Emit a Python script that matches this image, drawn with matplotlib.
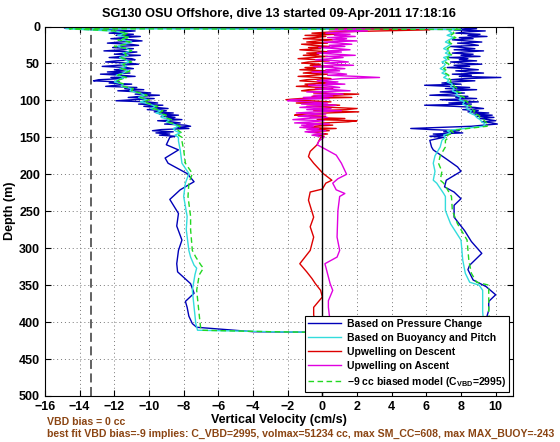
import numpy as np
import matplotlib
matplotlib.use("Agg")
import matplotlib.pyplot as plt

plt.rcParams['font.family'] = ['Liberation Sans', 'DejaVu Sans']
plt.rcParams['mathtext.fontset'] = 'custom'
plt.rcParams['mathtext.rm'] = 'Liberation Sans:bold'
plt.rcParams['mathtext.it'] = 'Liberation Sans:bold'

# ---- data (velocity in cm/s, depth in m) ----
# near-surface noisy part: pressure and upwelling sampled every 1.5 m,
# buoyancy/model every 3 m
depth_fine = np.arange(1.5, 150.1, 1.5)
depth_top = np.arange(3, 151, 3)

press_desc_top = [-14.9, -13.0, -12.1, -10.8, -11.6, -12.3, -10.9, -11.9, -10.5, -11.4,
                  -12.2, -11.0, -10.4, -11.7, -12.4, -11.1, -10.6, -11.8, -12.1, -10.9,
                  -11.5, -12.6, -10.7, -11.3, -12.0, -10.5, -11.6, -12.3, -11.0, -10.8,
                  -11.9, -12.5, -11.2, -10.6, -11.8, -12.7, -11.3, -10.9, -12.0, -11.4,
                  -12.4, -11.1, -12.8, -11.6, -10.8, -12.2, -11.5, -12.9, -13.2, -11.7,
                  -12.3, -11.0, -11.9, -12.5, -10.7, -11.4, -10.3, -11.8, -10.6, -9.9,
                  -10.8, -9.4, -10.5, -11.2, -9.7, -10.9, -11.9, -10.1, -9.5, -10.6,
                  -9.2, -10.3, -9.6, -8.9, -10.1, -9.0, -9.7, -8.6, -9.4, -8.3,
                  -9.3, -8.5, -9.0, -8.1, -9.5, -8.7, -8.2, -9.1, -7.9, -7.6,
                  -8.4, -7.7, -9.3, -9.8, -8.6, -9.6, -8.8, -9.4, -8.5, -8.8]
press_asc_top = [8.0, 8.9, 7.6, 9.4, 8.2, 7.7, 9.1, 8.4, 9.5, 7.9,
                 8.7, 7.5, 8.3, 9.2, 7.8, 8.6, 9.0, 7.4, 8.1, 8.8,
                 7.6, 9.3, 8.2, 7.5, 8.7, 8.0, 9.1, 7.3, 8.4, 7.9,
                 8.9, 7.4, 8.1, 9.2, 7.6, 8.5, 7.2, 8.3, 9.0, 7.7,
                 8.4, 9.3, 7.5, 8.6, 7.9, 10.3, 8.2, 7.4, 8.8, 7.6,
                 6.9, 8.0, 5.9, 7.3, 8.5, 7.1, 8.9, 7.6, 6.8, 8.2,
                 7.4, 6.2, 8.4, 7.7, 8.9, 6.8, 7.9, 9.0, 7.3, 8.6,
                 5.9, 7.6, 8.8, 9.3, 8.1, 9.0, 8.4, 9.6, 8.7, 9.8,
                 8.9, 9.9, 9.1, 9.6, 10.0, 9.2, 9.8, 10.1, 9.3, 8.6,
                 6.8, 5.1, 6.3, 7.9, 7.0, 8.1, 6.4, 7.2, 6.2, 7.0]
up_desc_top = [0.5, 2.0, 6.2, 3.3, 0.4, -0.6, 0.9, -1.0, 0.2, -0.4,
               -1.1, 0.6, -0.3, -0.9, 0.3, -1.2, -0.5, 0.4, -0.8, -0.1,
               -1.3, -0.4, 0.5, -0.9, -0.2, -1.1, 0.3, -0.6, -1.4, -0.3,
               0.4, -0.8, -1.2, -0.1, -0.7, 0.6, -1.0, -0.4, -1.3, 0.2,
               -0.6, -1.1, 0.3, -0.5, -1.4, -0.2, 0.5, -0.9, -1.3, -0.3,
               0.4, -1.0, -0.4, -1.5, -0.1, 0.6, -0.8, -1.2, 0.2, -0.5,
               2.1, 0.8, -0.6, 1.7, -1.3, -2.1, -0.7, 0.5, -1.5, -0.2,
               1.0, -0.9, 0.6, 2.0, 1.4, -0.5, 2.1, 0.3, -1.2, -1.6,
               0.2, -0.7, 1.3, -0.3, 2.0, 1.5, 0.1, -0.9, 0.6, -0.4,
               -1.1, 0.8, -0.6, 0.4, -0.8, -0.2, 0.3, -0.5, 0.1, -0.1]
up_asc_top = [3.0, 1.8, 0.4, 2.6, 1.2, 0.2, 1.6, 0.7, 1.9, 0.3,
              1.4, 0.6, 2.0, 0.1, 1.0, 1.7, 0.4, 1.3, -0.2, 0.9,
              1.6, 0.3, 1.1, -0.3, 0.8, 1.9, 0.2, 1.2, 0.5, -0.4,
              0.9, 1.5, 0.1, 0.7, 1.8, -0.5, 0.6, 1.3, 0.2, 1.0,
              -0.6, 0.8, 1.4, 0.3, 2.0, 3.3, 1.1, 0.4, -0.3, 0.9,
              0.2, 1.3, -0.8, 0.5, 1.0, -0.4, 0.7, 1.6, -0.9, 0.3,
              1.2, -0.5, 0.6, -1.1, 0.4, -1.8, -2.0, -0.7, 0.3, -1.2,
              0.8, -0.6, -1.3, 0.5, -0.9, 1.1, -0.4, -1.5, 0.2, -0.8,
              -1.4, 0.3, -1.0, -1.7, 0.1, -0.6, -1.6, 0.4, -1.2, -0.5,
              -1.3, -0.2, -0.9, 0.2, -1.0, -0.4, 0.1, -0.6, -0.2, 0.1]

buoy_desc_top = [-14.8, -12.2, -11.3, -11.8, -11.2, -11.6, -11.0, -11.5, -11.8, -11.3,
                 -11.0, -11.5, -11.2, -11.7, -11.4, -11.1, -11.6, -11.3, -11.7, -11.2,
                 -11.5, -11.9, -11.4, -11.8, -12.0, -11.5, -11.6, -11.0, -11.1, -10.6,
                 -10.2, -10.6, -10.1, -10.5, -10.0, -9.6, -9.9, -9.3, -9.6, -9.1,
                 -9.3, -8.8, -9.0, -8.6, -8.3, -8.6, -8.5, -8.2, -8.5, -8.3]
model_desc_top = [-14.6, -12.0, -11.2, -11.6, -11.1, -11.8, -11.1, -11.3, -12.0, -11.2,
                  -11.0, -11.4, -11.3, -11.6, -11.3, -11.0, -11.5, -11.4, -11.6, -11.1,
                  -11.4, -11.8, -11.3, -11.7, -11.9, -11.4, -11.5, -10.9, -11.0, -10.5,
                  -10.1, -10.5, -10.0, -10.3, -9.9, -9.5, -9.8, -9.2, -9.4, -9.0,
                  -9.1, -8.7, -8.9, -8.5, -8.2, -8.4, -8.3, -8.1, -8.3, -8.1]
buoy_asc_top = [7.6, 7.3, 7.5, 7.2, 7.6, 7.3, 7.1, 7.4, 7.2, 7.0,
                7.3, 7.1, 7.4, 7.0, 7.2, 6.9, 7.1, 7.0, 6.8, 7.1,
                6.9, 7.2, 7.0, 7.3, 7.2, 7.5, 7.4, 7.6, 7.5, 7.8,
                7.7, 8.0, 7.9, 8.2, 8.1, 8.4, 8.3, 8.6, 8.5, 8.8,
                8.9, 9.1, 9.2, 9.4, 9.3, 8.2, 7.2, 7.4, 7.0, 7.1]
model_asc_top = [7.8, 7.5, 7.6, 7.4, 7.7, 7.4, 7.3, 7.5, 7.4, 7.2,
                 7.4, 7.3, 7.5, 7.2, 7.3, 7.1, 7.3, 7.2, 7.0, 7.2,
                 7.1, 7.3, 7.2, 7.4, 7.4, 7.6, 7.6, 7.8, 7.7, 8.0,
                 7.9, 8.2, 8.1, 8.4, 8.3, 8.6, 8.5, 8.8, 8.7, 9.0,
                 9.1, 9.3, 9.4, 9.6, 9.5, 8.4, 7.4, 7.6, 7.2, 7.3]

# deeper, smoother part of each profile
press_desc_depth = [155, 160, 167, 178, 185, 199, 210, 221, 234, 253, 270, 289, 303,
                    321, 332, 348, 361, 372, 380, 392, 402, 407, 413, 414]
press_desc_deep = [-8.9, -9.0, -8.3, -9.07, -8.9, -7.8, -7.4, -8.2, -8.8, -8.3, -8.4, -8.1, -8.3,
                   -8.4, -8.35, -7.6, -7.4, -7.9, -7.8, -7.7, -7.5, -7.25, -4.0, 0.0]
buoy_desc_depth = [155, 167, 185, 199, 212, 230, 257, 275, 303, 312, 323, 327, 336,
                   357, 380, 402, 411, 413, 414]
buoy_desc_deep = [-8.3, -8.2, -8.1, -7.7, -7.9, -8.0, -7.8, -7.85, -7.7, -7.6, -7.4, -7.25, -7.35,
                  -7.5, -7.4, -7.3, -7.2, -3.0, 0.3]
model_desc_deep = [-8.1, -8.0, -7.9, -7.5, -7.7, -7.75, -7.6, -7.6, -7.5, -7.3, -7.0, -6.86, -7.1,
                   -7.25, -7.15, -7.05, -7.0, -3.0, 0.3]

press_asc_depth = [154, 163, 167, 180, 190, 196, 208, 217, 224, 233, 242, 258, 276,
                   291, 307, 323, 329, 343, 352, 363, 372, 384, 392, 402, 410, 414]
press_asc_deep = [6.2, 6.3, 6.4, 7.2, 7.8, 8.0, 7.15, 7.05, 7.6, 8.0, 7.6, 7.6, 8.2,
                  8.6, 9.2, 8.5, 8.4, 8.7, 9.45, 10.0, 9.6, 9.6, 9.5, 9.4, 6.0, 0.5]
buoy_asc_depth = [154, 163, 175, 185, 196, 208, 212, 226, 230, 249, 267, 289, 316,
                  334, 346, 350, 357, 375, 386, 400, 410, 414]
buoy_asc_deep = [6.9, 6.8, 6.5, 6.4, 6.5, 6.4, 6.6, 7.0, 7.1, 7.1, 7.4, 8.0, 8.1,
                 8.25, 8.5, 9.05, 9.25, 9.25, 9.25, 9.3, 6.0, 0.3]
model_asc_deep = [7.1, 7.1, 6.8, 6.7, 6.9, 6.8, 7.0, 7.35, 7.45, 7.5, 7.8, 8.35, 8.45,
                  8.6, 8.9, 9.6, 9.6, 9.6, 9.6, 9.65, 6.2, 0.3]

up_desc_depth = [155, 160, 169, 176, 185, 199, 208, 212, 220, 224, 235, 258, 271, 285,
                 303, 321, 332, 341, 348, 357, 366, 380, 390, 405]
up_desc_deep = [-0.2, -0.3, -0.7, -0.8, -0.5, 0.05, 0.55, 0.2, 0.0, -0.7, -0.8, -0.5, -0.7, -0.5,
                -0.7, -1.3, -0.9, -0.6, -0.4, -0.1, 0.0, -0.5, -0.5, -0.4]
up_asc_depth = [155, 160, 165, 174, 185, 200, 206, 212, 221, 226, 230, 249, 285, 303,
                312, 321, 330, 348, 357, 371, 380, 390, 405]
up_asc_deep = [-0.2, -0.3, 0.1, 0.8, 1.1, 1.4, 0.9, 0.6, 0.8, 1.3, 1.0, 0.9, 0.85, 1.0,
               0.85, 0.15, 0.25, 0.45, 0.6, 0.35, 0.35, 0.4, 0.5]

# surface point where the dive starts
start_depth = 4.0
start_vel = 8.0
vbd_bias_line = -13.37


# ---- assemble full dive (descent then ascent) ----
def dive(top_d, top_desc, deep_desc_d, deep_desc, deep_asc_d, deep_asc, top_asc):
    v = [start_vel] + list(top_desc) + list(deep_desc) + list(deep_asc[::-1]) + list(top_asc[::-1])
    d = ([start_depth] + list(top_d) + list(deep_desc_d) + list(deep_asc_d[::-1])
         + list(top_d[::-1]))
    return v, d


press_v, press_d = dive(depth_fine, press_desc_top, press_desc_depth, press_desc_deep,
                        press_asc_depth, press_asc_deep, press_asc_top)
buoy_v, buoy_d = dive(depth_top, buoy_desc_top, buoy_desc_depth, buoy_desc_deep,
                      buoy_asc_depth, buoy_asc_deep, buoy_asc_top)
model_v, model_d = dive(depth_top, model_desc_top, buoy_desc_depth, model_desc_deep,
                        buoy_asc_depth, model_asc_deep, model_asc_top)
upd_v = list(up_desc_top) + up_desc_deep
upd_d = list(depth_fine) + up_desc_depth
upa_v = list(up_asc_top) + up_asc_deep
upa_d = list(depth_fine) + up_asc_depth

# ---- plot ----
fig = plt.figure(figsize=(5.6, 4.42), dpi=100)
ax = fig.add_axes([45 / 560, 46 / 442, 468 / 560, 369.5 / 442])

ax.plot(press_v, press_d, color='#0000b8', lw=1.0, label='Based on Pressure Change')
ax.plot(buoy_v, buoy_d, color='#33dcdc', lw=1.0, label='Based on Buoyancy and Pitch')
ax.plot(upd_v, upd_d, color='#dd0000', lw=1.0, label='Upwelling on Descent')
ax.plot(upa_v, upa_d, color='#e000e0', lw=1.0, label='Upwelling on Ascent')
ax.plot(model_v, model_d, color='#22d822', lw=1.0, ls='--', dashes=(4, 2.5),
        label='\u22129 cc biased model (C$_{\\mathrm{VBD}}$=2995)')

ax.axvline(0, color='k', lw=1.0)
ax.axvline(vbd_bias_line, color='#555555', lw=1.3, ls='--', dashes=(5, 2.5))

ax.set_xlim(-16, 11)
ax.set_ylim(500, 0)
ax.set_xticks(np.arange(-16, 11, 2))
ax.set_yticks(np.arange(0, 501, 50))
ax.grid(True, ls=(0, (1, 3)), color='#777777', lw=0.7)
ax.tick_params(direction='in', top=True, right=True, length=4, width=0.8,
               labelsize=9, pad=3.5)
for lab in ax.get_xticklabels() + ax.get_yticklabels():
    lab.set_fontweight('bold')
for s in ax.spines.values():
    s.set_linewidth(0.8)

ax.set_xlabel('Vertical Velocity (cm/s)', fontsize=9, fontweight='bold', labelpad=1)
ax.set_ylabel('Depth (m)', fontsize=9, fontweight='bold', labelpad=2)
ax.set_title('SG130 OSU Offshore, dive 13 started 09-Apr-2011 17:18:16',
             fontsize=9.2, fontweight='bold', pad=7)

leg = ax.legend(loc='lower right', prop={'weight': 'bold', 'size': 7.5},
                handlelength=3.2, handletextpad=0.5, labelspacing=0.38,
                borderpad=0.3, borderaxespad=0.4, fancybox=False, framealpha=1)
leg.get_frame().set_edgecolor('k')
leg.get_frame().set_linewidth(0.8)

fig.text(47 / 560, (442 - 422) / 442, 'VBD bias = 0 cc', color='#8b4513',
         fontsize=7.6, fontweight='bold', va='center')
fig.text(47 / 560, (442 - 433.5) / 442,
         'best fit VBD bias=-9 implies: C_VBD=2995, volmax=51234 cc, max SM_CC=608, max MAX_BUOY=-243',
         color='#8b4513', fontsize=7.6, fontweight='bold', va='center')

fig.savefig('out.png', dpi=100)
